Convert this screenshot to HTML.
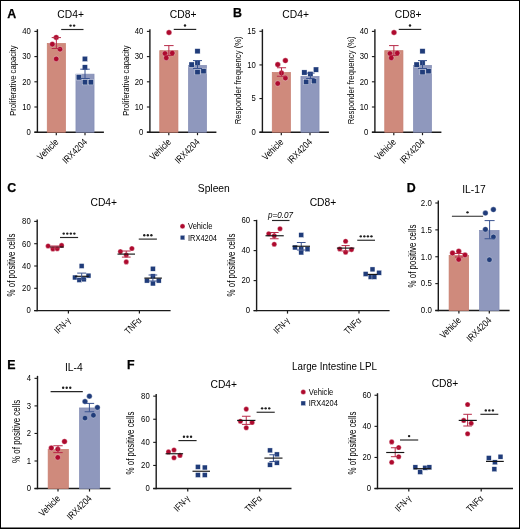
<!DOCTYPE html>
<html><head><meta charset="utf-8"><style>
html,body{margin:0;padding:0;background:#fff;}
svg{display:block;font-family:"Liberation Sans", sans-serif;will-change:transform;}
</style></head><body>
<svg width="520" height="529" viewBox="0 0 520 529">
<rect x="0" y="0" width="520" height="529" fill="#fff"/>
<line x1="37.40" y1="29.20" x2="37.40" y2="132.85" stroke="#1a1a1a" stroke-width="1.4"/>
<line x1="34.40" y1="132.20" x2="103.90" y2="132.20" stroke="#1a1a1a" stroke-width="1.4"/>
<line x1="34.40" y1="132.20" x2="37.40" y2="132.20" stroke="#1a1a1a" stroke-width="1.1"/>
<text x="30.90" y="135.00" font-size="9.8" text-anchor="end" textLength="4.3" lengthAdjust="spacingAndGlyphs">0</text>
<line x1="34.40" y1="107.00" x2="37.40" y2="107.00" stroke="#1a1a1a" stroke-width="1.1"/>
<text x="30.90" y="109.80" font-size="9.8" text-anchor="end" textLength="8.6" lengthAdjust="spacingAndGlyphs">10</text>
<line x1="34.40" y1="81.80" x2="37.40" y2="81.80" stroke="#1a1a1a" stroke-width="1.1"/>
<text x="30.90" y="84.60" font-size="9.8" text-anchor="end" textLength="8.6" lengthAdjust="spacingAndGlyphs">20</text>
<line x1="34.40" y1="56.60" x2="37.40" y2="56.60" stroke="#1a1a1a" stroke-width="1.1"/>
<text x="30.90" y="59.40" font-size="9.8" text-anchor="end" textLength="8.6" lengthAdjust="spacingAndGlyphs">30</text>
<line x1="34.40" y1="31.40" x2="37.40" y2="31.40" stroke="#1a1a1a" stroke-width="1.1"/>
<text x="30.90" y="34.20" font-size="9.8" text-anchor="end" textLength="8.6" lengthAdjust="spacingAndGlyphs">40</text>
<line x1="56.30" y1="132.20" x2="56.30" y2="135.20" stroke="#1a1a1a" stroke-width="1.2"/>
<line x1="85.00" y1="132.20" x2="85.00" y2="135.20" stroke="#1a1a1a" stroke-width="1.2"/>
<text x="16.10" y="80.60" font-size="9.6" text-anchor="middle" textLength="70.5" lengthAdjust="spacingAndGlyphs" transform="rotate(-90 16.10 80.60)">Proliferative capacity</text>
<text x="59.10" y="142.70" font-size="9.6" text-anchor="end" textLength="25.5" lengthAdjust="spacingAndGlyphs" transform="rotate(-45 59.10 142.70)">Vehicle</text>
<text x="87.80" y="142.70" font-size="9.6" text-anchor="end" textLength="30.5" lengthAdjust="spacingAndGlyphs" transform="rotate(-45 87.80 142.70)">IRX4204</text>
<text x="70.60" y="18.00" font-size="10.3" text-anchor="middle">CD4+</text>
<line x1="149.90" y1="29.20" x2="149.90" y2="132.85" stroke="#1a1a1a" stroke-width="1.4"/>
<line x1="146.90" y1="132.20" x2="216.40" y2="132.20" stroke="#1a1a1a" stroke-width="1.4"/>
<line x1="146.90" y1="132.20" x2="149.90" y2="132.20" stroke="#1a1a1a" stroke-width="1.1"/>
<text x="143.40" y="135.00" font-size="9.8" text-anchor="end" textLength="4.3" lengthAdjust="spacingAndGlyphs">0</text>
<line x1="146.90" y1="107.00" x2="149.90" y2="107.00" stroke="#1a1a1a" stroke-width="1.1"/>
<text x="143.40" y="109.80" font-size="9.8" text-anchor="end" textLength="8.6" lengthAdjust="spacingAndGlyphs">10</text>
<line x1="146.90" y1="81.80" x2="149.90" y2="81.80" stroke="#1a1a1a" stroke-width="1.1"/>
<text x="143.40" y="84.60" font-size="9.8" text-anchor="end" textLength="8.6" lengthAdjust="spacingAndGlyphs">20</text>
<line x1="146.90" y1="56.60" x2="149.90" y2="56.60" stroke="#1a1a1a" stroke-width="1.1"/>
<text x="143.40" y="59.40" font-size="9.8" text-anchor="end" textLength="8.6" lengthAdjust="spacingAndGlyphs">30</text>
<line x1="146.90" y1="31.40" x2="149.90" y2="31.40" stroke="#1a1a1a" stroke-width="1.1"/>
<text x="143.40" y="34.20" font-size="9.8" text-anchor="end" textLength="8.6" lengthAdjust="spacingAndGlyphs">40</text>
<line x1="168.80" y1="132.20" x2="168.80" y2="135.20" stroke="#1a1a1a" stroke-width="1.2"/>
<line x1="197.50" y1="132.20" x2="197.50" y2="135.20" stroke="#1a1a1a" stroke-width="1.2"/>
<text x="128.60" y="80.60" font-size="9.6" text-anchor="middle" textLength="70.5" lengthAdjust="spacingAndGlyphs" transform="rotate(-90 128.60 80.60)">Proliferative capacity</text>
<text x="171.60" y="142.70" font-size="9.6" text-anchor="end" textLength="25.5" lengthAdjust="spacingAndGlyphs" transform="rotate(-45 171.60 142.70)">Vehicle</text>
<text x="200.30" y="142.70" font-size="9.6" text-anchor="end" textLength="30.5" lengthAdjust="spacingAndGlyphs" transform="rotate(-45 200.30 142.70)">IRX4204</text>
<text x="183.10" y="18.00" font-size="10.3" text-anchor="middle">CD8+</text>
<line x1="262.40" y1="29.20" x2="262.40" y2="132.85" stroke="#1a1a1a" stroke-width="1.4"/>
<line x1="259.40" y1="132.20" x2="328.90" y2="132.20" stroke="#1a1a1a" stroke-width="1.4"/>
<line x1="259.40" y1="132.20" x2="262.40" y2="132.20" stroke="#1a1a1a" stroke-width="1.1"/>
<text x="255.90" y="135.00" font-size="9.8" text-anchor="end" textLength="4.3" lengthAdjust="spacingAndGlyphs">0</text>
<line x1="259.40" y1="98.57" x2="262.40" y2="98.57" stroke="#1a1a1a" stroke-width="1.1"/>
<text x="255.90" y="101.37" font-size="9.8" text-anchor="end" textLength="4.3" lengthAdjust="spacingAndGlyphs">5</text>
<line x1="259.40" y1="64.93" x2="262.40" y2="64.93" stroke="#1a1a1a" stroke-width="1.1"/>
<text x="255.90" y="67.73" font-size="9.8" text-anchor="end" textLength="8.6" lengthAdjust="spacingAndGlyphs">10</text>
<line x1="259.40" y1="31.30" x2="262.40" y2="31.30" stroke="#1a1a1a" stroke-width="1.1"/>
<text x="255.90" y="34.10" font-size="9.8" text-anchor="end" textLength="8.6" lengthAdjust="spacingAndGlyphs">15</text>
<line x1="281.30" y1="132.20" x2="281.30" y2="135.20" stroke="#1a1a1a" stroke-width="1.2"/>
<line x1="310.00" y1="132.20" x2="310.00" y2="135.20" stroke="#1a1a1a" stroke-width="1.2"/>
<text x="241.30" y="80.30" font-size="9.6" text-anchor="middle" textLength="88" lengthAdjust="spacingAndGlyphs" transform="rotate(-90 241.30 80.30)">Responder frequency (%)</text>
<text x="284.10" y="142.70" font-size="9.6" text-anchor="end" textLength="25.5" lengthAdjust="spacingAndGlyphs" transform="rotate(-45 284.10 142.70)">Vehicle</text>
<text x="312.80" y="142.70" font-size="9.6" text-anchor="end" textLength="30.5" lengthAdjust="spacingAndGlyphs" transform="rotate(-45 312.80 142.70)">IRX4204</text>
<text x="295.60" y="18.00" font-size="10.3" text-anchor="middle">CD4+</text>
<line x1="374.90" y1="29.20" x2="374.90" y2="132.85" stroke="#1a1a1a" stroke-width="1.4"/>
<line x1="371.90" y1="132.20" x2="441.40" y2="132.20" stroke="#1a1a1a" stroke-width="1.4"/>
<line x1="371.90" y1="132.20" x2="374.90" y2="132.20" stroke="#1a1a1a" stroke-width="1.1"/>
<text x="368.40" y="135.00" font-size="9.8" text-anchor="end" textLength="4.3" lengthAdjust="spacingAndGlyphs">0</text>
<line x1="371.90" y1="107.00" x2="374.90" y2="107.00" stroke="#1a1a1a" stroke-width="1.1"/>
<text x="368.40" y="109.80" font-size="9.8" text-anchor="end" textLength="8.6" lengthAdjust="spacingAndGlyphs">10</text>
<line x1="371.90" y1="81.80" x2="374.90" y2="81.80" stroke="#1a1a1a" stroke-width="1.1"/>
<text x="368.40" y="84.60" font-size="9.8" text-anchor="end" textLength="8.6" lengthAdjust="spacingAndGlyphs">20</text>
<line x1="371.90" y1="56.60" x2="374.90" y2="56.60" stroke="#1a1a1a" stroke-width="1.1"/>
<text x="368.40" y="59.40" font-size="9.8" text-anchor="end" textLength="8.6" lengthAdjust="spacingAndGlyphs">30</text>
<line x1="371.90" y1="31.40" x2="374.90" y2="31.40" stroke="#1a1a1a" stroke-width="1.1"/>
<text x="368.40" y="34.20" font-size="9.8" text-anchor="end" textLength="8.6" lengthAdjust="spacingAndGlyphs">40</text>
<line x1="393.80" y1="132.20" x2="393.80" y2="135.20" stroke="#1a1a1a" stroke-width="1.2"/>
<line x1="422.50" y1="132.20" x2="422.50" y2="135.20" stroke="#1a1a1a" stroke-width="1.2"/>
<text x="353.80" y="80.30" font-size="9.6" text-anchor="middle" textLength="88" lengthAdjust="spacingAndGlyphs" transform="rotate(-90 353.80 80.30)">Responder frequency (%)</text>
<text x="396.60" y="142.70" font-size="9.6" text-anchor="end" textLength="25.5" lengthAdjust="spacingAndGlyphs" transform="rotate(-45 396.60 142.70)">Vehicle</text>
<text x="425.30" y="142.70" font-size="9.6" text-anchor="end" textLength="30.5" lengthAdjust="spacingAndGlyphs" transform="rotate(-45 425.30 142.70)">IRX4204</text>
<text x="408.10" y="18.00" font-size="10.3" text-anchor="middle">CD8+</text>
<text x="7.3" y="17.5" font-size="12.4" font-weight="bold" stroke="#000" stroke-width="0.25">A</text>
<text x="233.0" y="17.3" font-size="12.4" font-weight="bold" stroke="#000" stroke-width="0.25">B</text>
<rect x="47.25" y="43.45" width="18.20" height="88.75" fill="#cf8a7c" stroke="#c77d6e" stroke-width="0.7"/>
<rect x="75.95" y="74.15" width="18.10" height="58.05" fill="#8f98bd" stroke="#838db6" stroke-width="0.7"/>
<line x1="61.20" y1="29.50" x2="83.50" y2="29.50" stroke="#262626" stroke-width="1.15"/>
<circle cx="70.57" cy="25.60" r="1.2" fill="#1e1e1e"/>
<circle cx="74.12" cy="25.60" r="1.2" fill="#1e1e1e"/>
<rect x="159.75" y="50.65" width="18.20" height="81.55" fill="#cf8a7c" stroke="#c77d6e" stroke-width="0.7"/>
<rect x="188.45" y="65.35" width="18.10" height="66.85" fill="#8f98bd" stroke="#838db6" stroke-width="0.7"/>
<line x1="173.75" y1="29.40" x2="196.25" y2="29.40" stroke="#262626" stroke-width="1.15"/>
<circle cx="185.00" cy="25.50" r="1.2" fill="#1e1e1e"/>
<rect x="384.75" y="50.65" width="18.20" height="81.55" fill="#cf8a7c" stroke="#c77d6e" stroke-width="0.7"/>
<rect x="413.45" y="65.35" width="18.10" height="66.85" fill="#8f98bd" stroke="#838db6" stroke-width="0.7"/>
<line x1="398.75" y1="29.40" x2="421.25" y2="29.40" stroke="#262626" stroke-width="1.15"/>
<circle cx="410.00" cy="25.50" r="1.2" fill="#1e1e1e"/>
<rect x="272.25" y="72.45" width="18.20" height="59.75" fill="#cf8a7c" stroke="#c77d6e" stroke-width="0.7"/>
<rect x="300.95" y="76.35" width="18.10" height="55.85" fill="#8f98bd" stroke="#838db6" stroke-width="0.7"/>
<text x="7.3" y="191.8" font-size="12.4" font-weight="bold" stroke="#000" stroke-width="0.25">C</text>
<text x="213.80" y="191.60" font-size="10.3" text-anchor="middle">Spleen</text>
<text x="188.00" y="229.40" font-size="8.6" text-anchor="start" textLength="24.5" lengthAdjust="spacingAndGlyphs">Vehicle</text>
<text x="188.00" y="240.70" font-size="8.6" text-anchor="start" textLength="29" lengthAdjust="spacingAndGlyphs">IRX4204</text>
<line x1="37.20" y1="219.50" x2="37.20" y2="311.25" stroke="#1a1a1a" stroke-width="1.4"/>
<line x1="34.20" y1="310.60" x2="170.60" y2="310.60" stroke="#1a1a1a" stroke-width="1.4"/>
<line x1="34.20" y1="310.60" x2="37.20" y2="310.60" stroke="#1a1a1a" stroke-width="1.1"/>
<text x="30.70" y="313.40" font-size="9.8" text-anchor="end" textLength="4.3" lengthAdjust="spacingAndGlyphs">0</text>
<line x1="34.20" y1="288.30" x2="37.20" y2="288.30" stroke="#1a1a1a" stroke-width="1.1"/>
<text x="30.70" y="291.10" font-size="9.8" text-anchor="end" textLength="8.6" lengthAdjust="spacingAndGlyphs">20</text>
<line x1="34.20" y1="266.00" x2="37.20" y2="266.00" stroke="#1a1a1a" stroke-width="1.1"/>
<text x="30.70" y="268.80" font-size="9.8" text-anchor="end" textLength="8.6" lengthAdjust="spacingAndGlyphs">40</text>
<line x1="34.20" y1="243.70" x2="37.20" y2="243.70" stroke="#1a1a1a" stroke-width="1.1"/>
<text x="30.70" y="246.50" font-size="9.8" text-anchor="end" textLength="8.6" lengthAdjust="spacingAndGlyphs">60</text>
<line x1="34.20" y1="221.40" x2="37.20" y2="221.40" stroke="#1a1a1a" stroke-width="1.1"/>
<text x="30.70" y="224.20" font-size="9.8" text-anchor="end" textLength="8.6" lengthAdjust="spacingAndGlyphs">80</text>
<line x1="68.40" y1="310.60" x2="68.40" y2="313.60" stroke="#1a1a1a" stroke-width="1.2"/>
<line x1="139.40" y1="310.60" x2="139.40" y2="313.60" stroke="#1a1a1a" stroke-width="1.2"/>
<text x="15.20" y="265.00" font-size="10.0" text-anchor="middle" textLength="63" lengthAdjust="spacingAndGlyphs" transform="rotate(-90 15.20 265.00)">% of positive cells</text>
<text x="103.80" y="206.30" font-size="10.3" text-anchor="middle">CD4+</text>
<line x1="60.00" y1="237.50" x2="78.10" y2="237.50" stroke="#262626" stroke-width="1.15"/>
<circle cx="63.72" cy="233.60" r="1.2" fill="#1e1e1e"/>
<circle cx="67.27" cy="233.60" r="1.2" fill="#1e1e1e"/>
<circle cx="70.83" cy="233.60" r="1.2" fill="#1e1e1e"/>
<circle cx="74.38" cy="233.60" r="1.2" fill="#1e1e1e"/>
<line x1="138.75" y1="239.10" x2="156.90" y2="239.10" stroke="#262626" stroke-width="1.15"/>
<circle cx="144.27" cy="235.20" r="1.2" fill="#1e1e1e"/>
<circle cx="147.82" cy="235.20" r="1.2" fill="#1e1e1e"/>
<circle cx="151.38" cy="235.20" r="1.2" fill="#1e1e1e"/>
<text x="71.20" y="321.10" font-size="9.2" text-anchor="end" textLength="18.5" lengthAdjust="spacingAndGlyphs" transform="rotate(-45 71.20 321.10)">IFN-γ</text>
<text x="142.20" y="321.10" font-size="9.6" text-anchor="end" textLength="19.5" lengthAdjust="spacingAndGlyphs" transform="rotate(-45 142.20 321.10)">TNFα</text>
<line x1="256.60" y1="219.80" x2="256.60" y2="311.25" stroke="#1a1a1a" stroke-width="1.4"/>
<line x1="253.60" y1="310.60" x2="389.60" y2="310.60" stroke="#1a1a1a" stroke-width="1.4"/>
<line x1="253.60" y1="310.60" x2="256.60" y2="310.60" stroke="#1a1a1a" stroke-width="1.1"/>
<text x="250.10" y="313.40" font-size="9.8" text-anchor="end" textLength="4.3" lengthAdjust="spacingAndGlyphs">0</text>
<line x1="253.60" y1="280.60" x2="256.60" y2="280.60" stroke="#1a1a1a" stroke-width="1.1"/>
<text x="250.10" y="283.40" font-size="9.8" text-anchor="end" textLength="8.6" lengthAdjust="spacingAndGlyphs">20</text>
<line x1="253.60" y1="250.60" x2="256.60" y2="250.60" stroke="#1a1a1a" stroke-width="1.1"/>
<text x="250.10" y="253.40" font-size="9.8" text-anchor="end" textLength="8.6" lengthAdjust="spacingAndGlyphs">40</text>
<line x1="253.60" y1="220.60" x2="256.60" y2="220.60" stroke="#1a1a1a" stroke-width="1.1"/>
<text x="250.10" y="223.40" font-size="9.8" text-anchor="end" textLength="8.6" lengthAdjust="spacingAndGlyphs">60</text>
<line x1="287.50" y1="310.60" x2="287.50" y2="313.60" stroke="#1a1a1a" stroke-width="1.2"/>
<line x1="359.00" y1="310.60" x2="359.00" y2="313.60" stroke="#1a1a1a" stroke-width="1.2"/>
<text x="234.60" y="265.00" font-size="10.0" text-anchor="middle" textLength="63" lengthAdjust="spacingAndGlyphs" transform="rotate(-90 234.60 265.00)">% of positive cells</text>
<text x="323.00" y="206.30" font-size="10.3" text-anchor="middle">CD8+</text>
<line x1="272.00" y1="220.50" x2="289.50" y2="220.50" stroke="#262626" stroke-width="1.15"/>
<text x="280.50" y="218.00" font-size="8.4" text-anchor="middle" font-style="italic" textLength="25" lengthAdjust="spacingAndGlyphs">p=0.07</text>
<line x1="357.25" y1="240.25" x2="375.00" y2="240.25" stroke="#262626" stroke-width="1.15"/>
<circle cx="360.80" cy="236.35" r="1.2" fill="#1e1e1e"/>
<circle cx="364.35" cy="236.35" r="1.2" fill="#1e1e1e"/>
<circle cx="367.90" cy="236.35" r="1.2" fill="#1e1e1e"/>
<circle cx="371.45" cy="236.35" r="1.2" fill="#1e1e1e"/>
<text x="290.30" y="321.10" font-size="9.2" text-anchor="end" textLength="18.5" lengthAdjust="spacingAndGlyphs" transform="rotate(-45 290.30 321.10)">IFN-γ</text>
<text x="361.80" y="321.10" font-size="9.6" text-anchor="end" textLength="19.5" lengthAdjust="spacingAndGlyphs" transform="rotate(-45 361.80 321.10)">TNFα</text>
<text x="406.8" y="191.8" font-size="12.4" font-weight="bold" stroke="#000" stroke-width="0.25">D</text>
<text x="474.00" y="192.50" font-size="10.3" text-anchor="middle">IL-17</text>
<line x1="438.30" y1="200.50" x2="438.30" y2="311.15" stroke="#1a1a1a" stroke-width="1.4"/>
<line x1="435.30" y1="310.50" x2="509.60" y2="310.50" stroke="#1a1a1a" stroke-width="1.4"/>
<line x1="435.30" y1="310.50" x2="438.30" y2="310.50" stroke="#1a1a1a" stroke-width="1.1"/>
<text x="431.80" y="313.30" font-size="9.8" text-anchor="end" textLength="11.0" lengthAdjust="spacingAndGlyphs">0.0</text>
<line x1="435.30" y1="283.62" x2="438.30" y2="283.62" stroke="#1a1a1a" stroke-width="1.1"/>
<text x="431.80" y="286.43" font-size="9.8" text-anchor="end" textLength="11.0" lengthAdjust="spacingAndGlyphs">0.5</text>
<line x1="435.30" y1="256.75" x2="438.30" y2="256.75" stroke="#1a1a1a" stroke-width="1.1"/>
<text x="431.80" y="259.55" font-size="9.8" text-anchor="end" textLength="11.0" lengthAdjust="spacingAndGlyphs">1.0</text>
<line x1="435.30" y1="229.88" x2="438.30" y2="229.88" stroke="#1a1a1a" stroke-width="1.1"/>
<text x="431.80" y="232.68" font-size="9.8" text-anchor="end" textLength="11.0" lengthAdjust="spacingAndGlyphs">1.5</text>
<line x1="435.30" y1="203.00" x2="438.30" y2="203.00" stroke="#1a1a1a" stroke-width="1.1"/>
<text x="431.80" y="205.80" font-size="9.8" text-anchor="end" textLength="11.0" lengthAdjust="spacingAndGlyphs">2.0</text>
<line x1="458.90" y1="310.50" x2="458.90" y2="313.50" stroke="#1a1a1a" stroke-width="1.2"/>
<line x1="489.30" y1="310.50" x2="489.30" y2="313.50" stroke="#1a1a1a" stroke-width="1.2"/>
<text x="416.30" y="256.00" font-size="10.0" text-anchor="middle" textLength="63" lengthAdjust="spacingAndGlyphs" transform="rotate(-90 416.30 256.00)">% of positive cells</text>
<rect x="449.10" y="255.35" width="19.55" height="55.15" fill="#cf8a7c" stroke="#c77d6e" stroke-width="0.7"/>
<rect x="479.45" y="230.35" width="19.60" height="80.15" fill="#8f98bd" stroke="#838db6" stroke-width="0.7"/>
<line x1="451.90" y1="216.25" x2="483.10" y2="216.25" stroke="#262626" stroke-width="1.15"/>
<circle cx="467.50" cy="212.35" r="1.2" fill="#1e1e1e"/>
<text x="461.70" y="321.00" font-size="9.6" text-anchor="end" textLength="25.5" lengthAdjust="spacingAndGlyphs" transform="rotate(-45 461.70 321.00)">Vehicle</text>
<text x="492.10" y="321.00" font-size="9.6" text-anchor="end" textLength="30.5" lengthAdjust="spacingAndGlyphs" transform="rotate(-45 492.10 321.00)">IRX4204</text>
<text x="7.3" y="369.40000000000003" font-size="12.4" font-weight="bold" stroke="#000" stroke-width="0.25">E</text>
<text x="73.80" y="370.50" font-size="10.3" text-anchor="middle">IL-4</text>
<line x1="37.50" y1="375.85" x2="37.50" y2="489.20" stroke="#1a1a1a" stroke-width="1.4"/>
<line x1="34.50" y1="488.55" x2="110.50" y2="488.55" stroke="#1a1a1a" stroke-width="1.4"/>
<line x1="34.50" y1="488.55" x2="37.50" y2="488.55" stroke="#1a1a1a" stroke-width="1.1"/>
<text x="31.00" y="491.35" font-size="9.8" text-anchor="end" textLength="4.3" lengthAdjust="spacingAndGlyphs">0</text>
<line x1="34.50" y1="461.00" x2="37.50" y2="461.00" stroke="#1a1a1a" stroke-width="1.1"/>
<text x="31.00" y="463.80" font-size="9.8" text-anchor="end" textLength="4.3" lengthAdjust="spacingAndGlyphs">1</text>
<line x1="34.50" y1="433.45" x2="37.50" y2="433.45" stroke="#1a1a1a" stroke-width="1.1"/>
<text x="31.00" y="436.25" font-size="9.8" text-anchor="end" textLength="4.3" lengthAdjust="spacingAndGlyphs">2</text>
<line x1="34.50" y1="405.90" x2="37.50" y2="405.90" stroke="#1a1a1a" stroke-width="1.1"/>
<text x="31.00" y="408.70" font-size="9.8" text-anchor="end" textLength="4.3" lengthAdjust="spacingAndGlyphs">3</text>
<line x1="34.50" y1="378.35" x2="37.50" y2="378.35" stroke="#1a1a1a" stroke-width="1.1"/>
<text x="31.00" y="381.15" font-size="9.8" text-anchor="end" textLength="4.3" lengthAdjust="spacingAndGlyphs">4</text>
<line x1="58.00" y1="488.55" x2="58.00" y2="491.55" stroke="#1a1a1a" stroke-width="1.2"/>
<line x1="89.50" y1="488.55" x2="89.50" y2="491.55" stroke="#1a1a1a" stroke-width="1.2"/>
<text x="19.80" y="431.40" font-size="10.0" text-anchor="middle" textLength="63" lengthAdjust="spacingAndGlyphs" transform="rotate(-90 19.80 431.40)">% of positive cells</text>
<rect x="48.15" y="449.35" width="20.20" height="39.20" fill="#cf8a7c" stroke="#c77d6e" stroke-width="0.7"/>
<rect x="79.45" y="407.95" width="20.20" height="80.60" fill="#8f98bd" stroke="#838db6" stroke-width="0.7"/>
<line x1="50.60" y1="391.60" x2="82.80" y2="391.60" stroke="#262626" stroke-width="1.15"/>
<circle cx="63.15" cy="387.70" r="1.2" fill="#1e1e1e"/>
<circle cx="66.70" cy="387.70" r="1.2" fill="#1e1e1e"/>
<circle cx="70.25" cy="387.70" r="1.2" fill="#1e1e1e"/>
<text x="60.80" y="499.05" font-size="9.6" text-anchor="end" textLength="25.5" lengthAdjust="spacingAndGlyphs" transform="rotate(-45 60.80 499.05)">Vehicle</text>
<text x="92.30" y="499.05" font-size="9.6" text-anchor="end" textLength="30.5" lengthAdjust="spacingAndGlyphs" transform="rotate(-45 92.30 499.05)">IRX4204</text>
<text x="127.0" y="369.40000000000003" font-size="12.4" font-weight="bold" stroke="#000" stroke-width="0.25">F</text>
<text x="334.50" y="369.50" font-size="10.3" text-anchor="middle" textLength="85" lengthAdjust="spacingAndGlyphs">Large Intestine LPL</text>
<text x="308.80" y="395.10" font-size="8.6" text-anchor="start" textLength="24.5" lengthAdjust="spacingAndGlyphs">Vehicle</text>
<text x="308.80" y="406.40" font-size="8.6" text-anchor="start" textLength="29" lengthAdjust="spacingAndGlyphs">IRX4204</text>
<line x1="156.20" y1="394.00" x2="156.20" y2="489.20" stroke="#1a1a1a" stroke-width="1.4"/>
<line x1="153.20" y1="488.55" x2="291.50" y2="488.55" stroke="#1a1a1a" stroke-width="1.4"/>
<line x1="153.20" y1="488.55" x2="156.20" y2="488.55" stroke="#1a1a1a" stroke-width="1.1"/>
<text x="149.70" y="491.35" font-size="9.8" text-anchor="end" textLength="4.3" lengthAdjust="spacingAndGlyphs">0</text>
<line x1="153.20" y1="465.45" x2="156.20" y2="465.45" stroke="#1a1a1a" stroke-width="1.1"/>
<text x="149.70" y="468.25" font-size="9.8" text-anchor="end" textLength="8.6" lengthAdjust="spacingAndGlyphs">20</text>
<line x1="153.20" y1="442.35" x2="156.20" y2="442.35" stroke="#1a1a1a" stroke-width="1.1"/>
<text x="149.70" y="445.15" font-size="9.8" text-anchor="end" textLength="8.6" lengthAdjust="spacingAndGlyphs">40</text>
<line x1="153.20" y1="419.25" x2="156.20" y2="419.25" stroke="#1a1a1a" stroke-width="1.1"/>
<text x="149.70" y="422.05" font-size="9.8" text-anchor="end" textLength="8.6" lengthAdjust="spacingAndGlyphs">60</text>
<line x1="153.20" y1="396.15" x2="156.20" y2="396.15" stroke="#1a1a1a" stroke-width="1.1"/>
<text x="149.70" y="398.95" font-size="9.8" text-anchor="end" textLength="8.6" lengthAdjust="spacingAndGlyphs">80</text>
<line x1="187.75" y1="488.55" x2="187.75" y2="491.55" stroke="#1a1a1a" stroke-width="1.2"/>
<line x1="259.75" y1="488.55" x2="259.75" y2="491.55" stroke="#1a1a1a" stroke-width="1.2"/>
<text x="134.20" y="443.00" font-size="10.0" text-anchor="middle" textLength="63" lengthAdjust="spacingAndGlyphs" transform="rotate(-90 134.20 443.00)">% of positive cells</text>
<text x="223.80" y="387.50" font-size="10.3" text-anchor="middle">CD4+</text>
<line x1="178.40" y1="440.60" x2="196.60" y2="440.60" stroke="#262626" stroke-width="1.15"/>
<circle cx="183.95" cy="436.70" r="1.2" fill="#1e1e1e"/>
<circle cx="187.50" cy="436.70" r="1.2" fill="#1e1e1e"/>
<circle cx="191.05" cy="436.70" r="1.2" fill="#1e1e1e"/>
<line x1="256.60" y1="412.25" x2="274.75" y2="412.25" stroke="#262626" stroke-width="1.15"/>
<circle cx="262.12" cy="408.35" r="1.2" fill="#1e1e1e"/>
<circle cx="265.68" cy="408.35" r="1.2" fill="#1e1e1e"/>
<circle cx="269.23" cy="408.35" r="1.2" fill="#1e1e1e"/>
<text x="190.55" y="499.05" font-size="9.2" text-anchor="end" textLength="18.5" lengthAdjust="spacingAndGlyphs" transform="rotate(-45 190.55 499.05)">IFN-γ</text>
<text x="262.55" y="499.05" font-size="9.6" text-anchor="end" textLength="19.5" lengthAdjust="spacingAndGlyphs" transform="rotate(-45 262.55 499.05)">TNFα</text>
<line x1="377.50" y1="393.20" x2="377.50" y2="489.20" stroke="#1a1a1a" stroke-width="1.4"/>
<line x1="374.50" y1="488.55" x2="513.00" y2="488.55" stroke="#1a1a1a" stroke-width="1.4"/>
<line x1="374.50" y1="488.55" x2="377.50" y2="488.55" stroke="#1a1a1a" stroke-width="1.1"/>
<text x="371.00" y="491.35" font-size="9.8" text-anchor="end" textLength="4.3" lengthAdjust="spacingAndGlyphs">0</text>
<line x1="374.50" y1="457.45" x2="377.50" y2="457.45" stroke="#1a1a1a" stroke-width="1.1"/>
<text x="371.00" y="460.25" font-size="9.8" text-anchor="end" textLength="8.6" lengthAdjust="spacingAndGlyphs">20</text>
<line x1="374.50" y1="426.35" x2="377.50" y2="426.35" stroke="#1a1a1a" stroke-width="1.1"/>
<text x="371.00" y="429.15" font-size="9.8" text-anchor="end" textLength="8.6" lengthAdjust="spacingAndGlyphs">40</text>
<line x1="374.50" y1="395.25" x2="377.50" y2="395.25" stroke="#1a1a1a" stroke-width="1.1"/>
<text x="371.00" y="398.05" font-size="9.8" text-anchor="end" textLength="8.6" lengthAdjust="spacingAndGlyphs">60</text>
<line x1="408.80" y1="488.55" x2="408.80" y2="491.55" stroke="#1a1a1a" stroke-width="1.2"/>
<line x1="481.20" y1="488.55" x2="481.20" y2="491.55" stroke="#1a1a1a" stroke-width="1.2"/>
<text x="355.50" y="443.00" font-size="10.0" text-anchor="middle" textLength="63" lengthAdjust="spacingAndGlyphs" transform="rotate(-90 355.50 443.00)">% of positive cells</text>
<text x="445.00" y="387.30" font-size="10.3" text-anchor="middle">CD8+</text>
<line x1="400.00" y1="440.00" x2="418.20" y2="440.00" stroke="#262626" stroke-width="1.15"/>
<circle cx="409.10" cy="436.10" r="1.2" fill="#1e1e1e"/>
<line x1="480.40" y1="414.30" x2="498.30" y2="414.30" stroke="#262626" stroke-width="1.15"/>
<circle cx="485.80" cy="410.40" r="1.2" fill="#1e1e1e"/>
<circle cx="489.35" cy="410.40" r="1.2" fill="#1e1e1e"/>
<circle cx="492.90" cy="410.40" r="1.2" fill="#1e1e1e"/>
<text x="411.80" y="499.05" font-size="9.2" text-anchor="end" textLength="18.5" lengthAdjust="spacingAndGlyphs" transform="rotate(-45 411.80 499.05)">IFN-γ</text>
<text x="484.00" y="499.05" font-size="9.6" text-anchor="end" textLength="19.5" lengthAdjust="spacingAndGlyphs" transform="rotate(-45 484.00 499.05)">TNFα</text>
<circle cx="56.20" cy="37.40" r="2.75" fill="#ae0a2e" stroke="#fff" stroke-width="0.35"/>
<circle cx="52.30" cy="44.20" r="2.75" fill="#ae0a2e" stroke="#fff" stroke-width="0.35"/>
<circle cx="60.00" cy="49.20" r="2.75" fill="#ae0a2e" stroke="#fff" stroke-width="0.35"/>
<circle cx="56.20" cy="58.90" r="2.75" fill="#ae0a2e" stroke="#fff" stroke-width="0.35"/>
<rect x="82.30" y="56.30" width="5.2" height="5.2" fill="#203c7a" stroke="#fff" stroke-width="0.35"/>
<rect x="82.30" y="64.80" width="5.2" height="5.2" fill="#203c7a" stroke="#fff" stroke-width="0.35"/>
<rect x="76.30" y="74.80" width="5.2" height="5.2" fill="#203c7a" stroke="#fff" stroke-width="0.35"/>
<rect x="82.30" y="79.70" width="5.2" height="5.2" fill="#203c7a" stroke="#fff" stroke-width="0.35"/>
<rect x="88.20" y="79.70" width="5.2" height="5.2" fill="#203c7a" stroke="#fff" stroke-width="0.35"/>
<circle cx="169.00" cy="32.50" r="2.75" fill="#ae0a2e" stroke="#fff" stroke-width="0.35"/>
<circle cx="165.00" cy="53.50" r="2.75" fill="#ae0a2e" stroke="#fff" stroke-width="0.35"/>
<circle cx="172.25" cy="53.10" r="2.75" fill="#ae0a2e" stroke="#fff" stroke-width="0.35"/>
<circle cx="166.25" cy="57.90" r="2.75" fill="#ae0a2e" stroke="#fff" stroke-width="0.35"/>
<rect x="194.90" y="48.65" width="5.2" height="5.2" fill="#203c7a" stroke="#fff" stroke-width="0.35"/>
<rect x="189.00" y="62.00" width="5.2" height="5.2" fill="#203c7a" stroke="#fff" stroke-width="0.35"/>
<rect x="194.90" y="60.50" width="5.2" height="5.2" fill="#203c7a" stroke="#fff" stroke-width="0.35"/>
<rect x="194.90" y="69.65" width="5.2" height="5.2" fill="#203c7a" stroke="#fff" stroke-width="0.35"/>
<rect x="200.90" y="68.65" width="5.2" height="5.2" fill="#203c7a" stroke="#fff" stroke-width="0.35"/>
<circle cx="394.00" cy="32.50" r="2.75" fill="#ae0a2e" stroke="#fff" stroke-width="0.35"/>
<circle cx="390.00" cy="53.50" r="2.75" fill="#ae0a2e" stroke="#fff" stroke-width="0.35"/>
<circle cx="397.25" cy="53.10" r="2.75" fill="#ae0a2e" stroke="#fff" stroke-width="0.35"/>
<circle cx="391.25" cy="57.90" r="2.75" fill="#ae0a2e" stroke="#fff" stroke-width="0.35"/>
<rect x="419.90" y="48.65" width="5.2" height="5.2" fill="#203c7a" stroke="#fff" stroke-width="0.35"/>
<rect x="414.00" y="62.00" width="5.2" height="5.2" fill="#203c7a" stroke="#fff" stroke-width="0.35"/>
<rect x="419.90" y="60.50" width="5.2" height="5.2" fill="#203c7a" stroke="#fff" stroke-width="0.35"/>
<rect x="419.90" y="69.65" width="5.2" height="5.2" fill="#203c7a" stroke="#fff" stroke-width="0.35"/>
<rect x="425.90" y="68.65" width="5.2" height="5.2" fill="#203c7a" stroke="#fff" stroke-width="0.35"/>
<circle cx="285.40" cy="60.60" r="2.75" fill="#ae0a2e" stroke="#fff" stroke-width="0.35"/>
<circle cx="277.75" cy="64.60" r="2.75" fill="#ae0a2e" stroke="#fff" stroke-width="0.35"/>
<circle cx="281.50" cy="73.10" r="2.75" fill="#ae0a2e" stroke="#fff" stroke-width="0.35"/>
<circle cx="285.40" cy="78.10" r="2.75" fill="#ae0a2e" stroke="#fff" stroke-width="0.35"/>
<circle cx="277.75" cy="83.50" r="2.75" fill="#ae0a2e" stroke="#fff" stroke-width="0.35"/>
<rect x="313.40" y="67.00" width="5.2" height="5.2" fill="#203c7a" stroke="#fff" stroke-width="0.35"/>
<rect x="301.80" y="69.90" width="5.2" height="5.2" fill="#203c7a" stroke="#fff" stroke-width="0.35"/>
<rect x="307.80" y="71.50" width="5.2" height="5.2" fill="#203c7a" stroke="#fff" stroke-width="0.35"/>
<rect x="303.65" y="79.30" width="5.2" height="5.2" fill="#203c7a" stroke="#fff" stroke-width="0.35"/>
<rect x="311.50" y="78.65" width="5.2" height="5.2" fill="#203c7a" stroke="#fff" stroke-width="0.35"/>
<circle cx="182.50" cy="226.30" r="2.5" fill="#ae0a2e" stroke="#fff" stroke-width="0.35"/>
<rect x="180.20" y="235.30" width="4.6" height="4.6" fill="#203c7a" stroke="#fff" stroke-width="0.35"/>
<circle cx="48.10" cy="246.00" r="2.55" fill="#ae0a2e" stroke="#fff" stroke-width="0.35"/>
<circle cx="52.90" cy="249.00" r="2.55" fill="#ae0a2e" stroke="#fff" stroke-width="0.35"/>
<circle cx="57.25" cy="248.75" r="2.55" fill="#ae0a2e" stroke="#fff" stroke-width="0.35"/>
<circle cx="61.60" cy="245.40" r="2.55" fill="#ae0a2e" stroke="#fff" stroke-width="0.35"/>
<rect x="79.15" y="263.55" width="4.9" height="4.9" fill="#203c7a" stroke="#fff" stroke-width="0.35"/>
<rect x="72.55" y="275.05" width="4.9" height="4.9" fill="#203c7a" stroke="#fff" stroke-width="0.35"/>
<rect x="76.95" y="277.55" width="4.9" height="4.9" fill="#203c7a" stroke="#fff" stroke-width="0.35"/>
<rect x="81.30" y="276.95" width="4.9" height="4.9" fill="#203c7a" stroke="#fff" stroke-width="0.35"/>
<rect x="86.05" y="273.15" width="4.9" height="4.9" fill="#203c7a" stroke="#fff" stroke-width="0.35"/>
<circle cx="131.90" cy="248.50" r="2.55" fill="#ae0a2e" stroke="#fff" stroke-width="0.35"/>
<circle cx="120.40" cy="251.60" r="2.55" fill="#ae0a2e" stroke="#fff" stroke-width="0.35"/>
<circle cx="126.25" cy="255.00" r="2.55" fill="#ae0a2e" stroke="#fff" stroke-width="0.35"/>
<circle cx="126.25" cy="261.90" r="2.55" fill="#ae0a2e" stroke="#fff" stroke-width="0.35"/>
<rect x="150.45" y="266.30" width="4.9" height="4.9" fill="#203c7a" stroke="#fff" stroke-width="0.35"/>
<rect x="150.45" y="273.80" width="4.9" height="4.9" fill="#203c7a" stroke="#fff" stroke-width="0.35"/>
<rect x="144.45" y="278.15" width="4.9" height="4.9" fill="#203c7a" stroke="#fff" stroke-width="0.35"/>
<rect x="156.30" y="278.15" width="4.9" height="4.9" fill="#203c7a" stroke="#fff" stroke-width="0.35"/>
<rect x="150.45" y="281.05" width="4.9" height="4.9" fill="#203c7a" stroke="#fff" stroke-width="0.35"/>
<circle cx="268.75" cy="233.75" r="2.55" fill="#ae0a2e" stroke="#fff" stroke-width="0.35"/>
<circle cx="280.00" cy="228.75" r="2.55" fill="#ae0a2e" stroke="#fff" stroke-width="0.35"/>
<circle cx="274.25" cy="235.75" r="2.55" fill="#ae0a2e" stroke="#fff" stroke-width="0.35"/>
<circle cx="274.25" cy="244.25" r="2.55" fill="#ae0a2e" stroke="#fff" stroke-width="0.35"/>
<rect x="298.80" y="232.55" width="4.9" height="4.9" fill="#203c7a" stroke="#fff" stroke-width="0.35"/>
<rect x="292.55" y="245.05" width="4.9" height="4.9" fill="#203c7a" stroke="#fff" stroke-width="0.35"/>
<rect x="298.80" y="246.80" width="4.9" height="4.9" fill="#203c7a" stroke="#fff" stroke-width="0.35"/>
<rect x="305.05" y="246.80" width="4.9" height="4.9" fill="#203c7a" stroke="#fff" stroke-width="0.35"/>
<rect x="298.80" y="250.05" width="4.9" height="4.9" fill="#203c7a" stroke="#fff" stroke-width="0.35"/>
<circle cx="345.60" cy="241.25" r="2.55" fill="#ae0a2e" stroke="#fff" stroke-width="0.35"/>
<circle cx="339.75" cy="249.00" r="2.55" fill="#ae0a2e" stroke="#fff" stroke-width="0.35"/>
<circle cx="351.50" cy="249.60" r="2.55" fill="#ae0a2e" stroke="#fff" stroke-width="0.35"/>
<circle cx="345.60" cy="252.25" r="2.55" fill="#ae0a2e" stroke="#fff" stroke-width="0.35"/>
<rect x="370.05" y="266.95" width="4.9" height="4.9" fill="#203c7a" stroke="#fff" stroke-width="0.35"/>
<rect x="363.15" y="271.55" width="4.9" height="4.9" fill="#203c7a" stroke="#fff" stroke-width="0.35"/>
<rect x="376.65" y="270.30" width="4.9" height="4.9" fill="#203c7a" stroke="#fff" stroke-width="0.35"/>
<rect x="368.15" y="274.45" width="4.9" height="4.9" fill="#203c7a" stroke="#fff" stroke-width="0.35"/>
<rect x="371.95" y="274.45" width="4.9" height="4.9" fill="#203c7a" stroke="#fff" stroke-width="0.35"/>
<circle cx="452.50" cy="253.10" r="2.75" fill="#ae0a2e" stroke="#fff" stroke-width="0.35"/>
<circle cx="458.75" cy="251.25" r="2.75" fill="#ae0a2e" stroke="#fff" stroke-width="0.35"/>
<circle cx="465.00" cy="255.00" r="2.75" fill="#ae0a2e" stroke="#fff" stroke-width="0.35"/>
<circle cx="458.75" cy="259.40" r="2.75" fill="#ae0a2e" stroke="#fff" stroke-width="0.35"/>
<circle cx="485.40" cy="213.10" r="2.75" fill="#203c7a" stroke="#fff" stroke-width="0.35"/>
<circle cx="493.40" cy="209.60" r="2.75" fill="#203c7a" stroke="#fff" stroke-width="0.35"/>
<circle cx="485.40" cy="229.40" r="2.75" fill="#203c7a" stroke="#fff" stroke-width="0.35"/>
<circle cx="493.40" cy="236.90" r="2.75" fill="#203c7a" stroke="#fff" stroke-width="0.35"/>
<circle cx="489.40" cy="259.75" r="2.75" fill="#203c7a" stroke="#fff" stroke-width="0.35"/>
<circle cx="64.50" cy="441.50" r="2.75" fill="#ae0a2e" stroke="#fff" stroke-width="0.35"/>
<circle cx="51.30" cy="448.00" r="2.75" fill="#ae0a2e" stroke="#fff" stroke-width="0.35"/>
<circle cx="57.80" cy="449.20" r="2.75" fill="#ae0a2e" stroke="#fff" stroke-width="0.35"/>
<circle cx="57.80" cy="457.40" r="2.75" fill="#ae0a2e" stroke="#fff" stroke-width="0.35"/>
<circle cx="89.40" cy="396.20" r="2.75" fill="#203c7a" stroke="#fff" stroke-width="0.35"/>
<circle cx="85.00" cy="401.50" r="2.75" fill="#203c7a" stroke="#fff" stroke-width="0.35"/>
<circle cx="97.40" cy="407.50" r="2.75" fill="#203c7a" stroke="#fff" stroke-width="0.35"/>
<circle cx="93.40" cy="415.20" r="2.75" fill="#203c7a" stroke="#fff" stroke-width="0.35"/>
<circle cx="85.00" cy="418.10" r="2.75" fill="#203c7a" stroke="#fff" stroke-width="0.35"/>
<circle cx="303.25" cy="392.00" r="2.5" fill="#ae0a2e" stroke="#fff" stroke-width="0.35"/>
<rect x="300.95" y="401.00" width="4.6" height="4.6" fill="#203c7a" stroke="#fff" stroke-width="0.35"/>
<circle cx="168.50" cy="451.90" r="2.55" fill="#ae0a2e" stroke="#fff" stroke-width="0.35"/>
<circle cx="174.00" cy="450.00" r="2.55" fill="#ae0a2e" stroke="#fff" stroke-width="0.35"/>
<circle cx="180.00" cy="455.40" r="2.55" fill="#ae0a2e" stroke="#fff" stroke-width="0.35"/>
<circle cx="174.00" cy="457.75" r="2.55" fill="#ae0a2e" stroke="#fff" stroke-width="0.35"/>
<rect x="195.45" y="464.45" width="4.9" height="4.9" fill="#203c7a" stroke="#fff" stroke-width="0.35"/>
<rect x="202.30" y="465.05" width="4.9" height="4.9" fill="#203c7a" stroke="#fff" stroke-width="0.35"/>
<rect x="195.45" y="472.55" width="4.9" height="4.9" fill="#203c7a" stroke="#fff" stroke-width="0.35"/>
<rect x="202.30" y="472.55" width="4.9" height="4.9" fill="#203c7a" stroke="#fff" stroke-width="0.35"/>
<circle cx="246.25" cy="409.10" r="2.55" fill="#ae0a2e" stroke="#fff" stroke-width="0.35"/>
<circle cx="240.40" cy="421.25" r="2.55" fill="#ae0a2e" stroke="#fff" stroke-width="0.35"/>
<circle cx="252.10" cy="422.50" r="2.55" fill="#ae0a2e" stroke="#fff" stroke-width="0.35"/>
<circle cx="246.25" cy="427.75" r="2.55" fill="#ae0a2e" stroke="#fff" stroke-width="0.35"/>
<rect x="267.55" y="447.95" width="4.9" height="4.9" fill="#203c7a" stroke="#fff" stroke-width="0.35"/>
<rect x="274.45" y="451.95" width="4.9" height="4.9" fill="#203c7a" stroke="#fff" stroke-width="0.35"/>
<rect x="267.55" y="462.30" width="4.9" height="4.9" fill="#203c7a" stroke="#fff" stroke-width="0.35"/>
<rect x="274.45" y="460.30" width="4.9" height="4.9" fill="#203c7a" stroke="#fff" stroke-width="0.35"/>
<circle cx="391.70" cy="441.90" r="2.55" fill="#ae0a2e" stroke="#fff" stroke-width="0.35"/>
<circle cx="398.70" cy="447.50" r="2.55" fill="#ae0a2e" stroke="#fff" stroke-width="0.35"/>
<circle cx="398.70" cy="456.70" r="2.55" fill="#ae0a2e" stroke="#fff" stroke-width="0.35"/>
<circle cx="391.70" cy="462.30" r="2.55" fill="#ae0a2e" stroke="#fff" stroke-width="0.35"/>
<rect x="412.95" y="464.85" width="4.9" height="4.9" fill="#203c7a" stroke="#fff" stroke-width="0.35"/>
<rect x="417.75" y="469.55" width="4.9" height="4.9" fill="#203c7a" stroke="#fff" stroke-width="0.35"/>
<rect x="422.75" y="465.35" width="4.9" height="4.9" fill="#203c7a" stroke="#fff" stroke-width="0.35"/>
<rect x="426.95" y="464.85" width="4.9" height="4.9" fill="#203c7a" stroke="#fff" stroke-width="0.35"/>
<circle cx="467.60" cy="404.50" r="2.55" fill="#ae0a2e" stroke="#fff" stroke-width="0.35"/>
<circle cx="463.70" cy="420.40" r="2.55" fill="#ae0a2e" stroke="#fff" stroke-width="0.35"/>
<circle cx="471.20" cy="423.20" r="2.55" fill="#ae0a2e" stroke="#fff" stroke-width="0.35"/>
<circle cx="467.60" cy="433.80" r="2.55" fill="#ae0a2e" stroke="#fff" stroke-width="0.35"/>
<rect x="486.35" y="455.55" width="4.9" height="4.9" fill="#203c7a" stroke="#fff" stroke-width="0.35"/>
<rect x="498.05" y="454.25" width="4.9" height="4.9" fill="#203c7a" stroke="#fff" stroke-width="0.35"/>
<rect x="492.45" y="459.85" width="4.9" height="4.9" fill="#203c7a" stroke="#fff" stroke-width="0.35"/>
<rect x="491.95" y="466.75" width="4.9" height="4.9" fill="#203c7a" stroke="#fff" stroke-width="0.35"/>
<line x1="56.35" y1="37.60" x2="56.35" y2="48.50" stroke="#b82a48" stroke-width="1.0"/>
<line x1="51.70" y1="37.60" x2="61.00" y2="37.60" stroke="#b82a48" stroke-width="1.0"/>
<line x1="51.70" y1="48.50" x2="61.00" y2="48.50" stroke="#b82a48" stroke-width="1.0"/>
<line x1="85.00" y1="69.20" x2="85.00" y2="78.50" stroke="#3a5390" stroke-width="1.0"/>
<line x1="80.25" y1="69.20" x2="89.75" y2="69.20" stroke="#3a5390" stroke-width="1.0"/>
<line x1="80.25" y1="78.50" x2="89.75" y2="78.50" stroke="#3a5390" stroke-width="1.0"/>
<line x1="168.85" y1="45.60" x2="168.85" y2="55.50" stroke="#b82a48" stroke-width="1.0"/>
<line x1="164.10" y1="45.60" x2="173.60" y2="45.60" stroke="#b82a48" stroke-width="1.0"/>
<line x1="164.10" y1="55.50" x2="173.60" y2="55.50" stroke="#b82a48" stroke-width="1.0"/>
<line x1="197.50" y1="60.60" x2="197.50" y2="68.50" stroke="#3a5390" stroke-width="1.0"/>
<line x1="193.00" y1="60.60" x2="202.00" y2="60.60" stroke="#3a5390" stroke-width="1.0"/>
<line x1="193.00" y1="68.50" x2="202.00" y2="68.50" stroke="#3a5390" stroke-width="1.0"/>
<line x1="393.85" y1="45.60" x2="393.85" y2="55.50" stroke="#b82a48" stroke-width="1.0"/>
<line x1="389.10" y1="45.60" x2="398.60" y2="45.60" stroke="#b82a48" stroke-width="1.0"/>
<line x1="389.10" y1="55.50" x2="398.60" y2="55.50" stroke="#b82a48" stroke-width="1.0"/>
<line x1="422.50" y1="60.60" x2="422.50" y2="68.50" stroke="#3a5390" stroke-width="1.0"/>
<line x1="418.00" y1="60.60" x2="427.00" y2="60.60" stroke="#3a5390" stroke-width="1.0"/>
<line x1="418.00" y1="68.50" x2="427.00" y2="68.50" stroke="#3a5390" stroke-width="1.0"/>
<line x1="281.50" y1="67.75" x2="281.50" y2="76.25" stroke="#b82a48" stroke-width="1.0"/>
<line x1="276.90" y1="67.75" x2="286.10" y2="67.75" stroke="#b82a48" stroke-width="1.0"/>
<line x1="276.90" y1="76.25" x2="286.10" y2="76.25" stroke="#b82a48" stroke-width="1.0"/>
<line x1="310.40" y1="73.10" x2="310.40" y2="78.50" stroke="#3a5390" stroke-width="1.0"/>
<line x1="306.15" y1="73.10" x2="314.65" y2="73.10" stroke="#3a5390" stroke-width="1.0"/>
<line x1="306.15" y1="78.50" x2="314.65" y2="78.50" stroke="#3a5390" stroke-width="1.0"/>
<line x1="50.00" y1="247.00" x2="63.80" y2="247.00" stroke="#151515" stroke-width="1.15"/>
<line x1="55.00" y1="246.00" x2="55.00" y2="248.00" stroke="#b82a48" stroke-width="1.0"/>
<line x1="50.50" y1="246.00" x2="59.50" y2="246.00" stroke="#b82a48" stroke-width="1.0"/>
<line x1="50.50" y1="248.00" x2="59.50" y2="248.00" stroke="#b82a48" stroke-width="1.0"/>
<line x1="75.00" y1="276.30" x2="88.80" y2="276.30" stroke="#151515" stroke-width="1.15"/>
<line x1="81.70" y1="273.10" x2="81.70" y2="279.30" stroke="#3a5390" stroke-width="1.0"/>
<line x1="77.20" y1="273.10" x2="86.20" y2="273.10" stroke="#3a5390" stroke-width="1.0"/>
<line x1="77.20" y1="279.30" x2="86.20" y2="279.30" stroke="#3a5390" stroke-width="1.0"/>
<line x1="126.25" y1="251.00" x2="126.25" y2="257.10" stroke="#b82a48" stroke-width="1.0"/>
<line x1="121.90" y1="251.00" x2="130.60" y2="251.00" stroke="#b82a48" stroke-width="1.0"/>
<line x1="121.90" y1="257.10" x2="130.60" y2="257.10" stroke="#b82a48" stroke-width="1.0"/>
<line x1="117.50" y1="254.10" x2="135.00" y2="254.10" stroke="#151515" stroke-width="1.15"/>
<line x1="144.40" y1="278.10" x2="161.90" y2="278.10" stroke="#151515" stroke-width="1.15"/>
<line x1="152.90" y1="275.00" x2="152.90" y2="281.00" stroke="#3a5390" stroke-width="1.0"/>
<line x1="148.55" y1="275.00" x2="157.25" y2="275.00" stroke="#3a5390" stroke-width="1.0"/>
<line x1="148.55" y1="281.00" x2="157.25" y2="281.00" stroke="#3a5390" stroke-width="1.0"/>
<line x1="274.25" y1="232.50" x2="274.25" y2="238.75" stroke="#b82a48" stroke-width="1.0"/>
<line x1="269.90" y1="232.50" x2="278.60" y2="232.50" stroke="#b82a48" stroke-width="1.0"/>
<line x1="269.90" y1="238.75" x2="278.60" y2="238.75" stroke="#b82a48" stroke-width="1.0"/>
<line x1="265.50" y1="235.75" x2="283.75" y2="235.75" stroke="#151515" stroke-width="1.15"/>
<line x1="301.25" y1="242.50" x2="301.25" y2="250.00" stroke="#3a5390" stroke-width="1.0"/>
<line x1="296.90" y1="242.50" x2="305.60" y2="242.50" stroke="#3a5390" stroke-width="1.0"/>
<line x1="296.90" y1="250.00" x2="305.60" y2="250.00" stroke="#3a5390" stroke-width="1.0"/>
<line x1="292.50" y1="246.25" x2="310.00" y2="246.25" stroke="#151515" stroke-width="1.15"/>
<line x1="345.60" y1="245.60" x2="345.60" y2="251.00" stroke="#b82a48" stroke-width="1.0"/>
<line x1="341.50" y1="245.60" x2="349.70" y2="245.60" stroke="#b82a48" stroke-width="1.0"/>
<line x1="341.50" y1="251.00" x2="349.70" y2="251.00" stroke="#b82a48" stroke-width="1.0"/>
<line x1="336.90" y1="248.10" x2="354.40" y2="248.10" stroke="#151515" stroke-width="1.15"/>
<line x1="367.50" y1="274.40" x2="377.50" y2="274.40" stroke="#151515" stroke-width="1.15"/>
<line x1="458.90" y1="253.50" x2="458.90" y2="257.00" stroke="#b82a48" stroke-width="1.0"/>
<line x1="454.90" y1="253.50" x2="462.90" y2="253.50" stroke="#b82a48" stroke-width="1.0"/>
<line x1="454.90" y1="257.00" x2="462.90" y2="257.00" stroke="#b82a48" stroke-width="1.0"/>
<line x1="489.60" y1="220.60" x2="489.60" y2="238.75" stroke="#3a5390" stroke-width="1.0"/>
<line x1="484.60" y1="220.60" x2="494.60" y2="220.60" stroke="#3a5390" stroke-width="1.0"/>
<line x1="484.60" y1="238.75" x2="494.60" y2="238.75" stroke="#3a5390" stroke-width="1.0"/>
<line x1="58.00" y1="445.75" x2="58.00" y2="452.60" stroke="#b82a48" stroke-width="1.0"/>
<line x1="53.30" y1="445.75" x2="62.70" y2="445.75" stroke="#b82a48" stroke-width="1.0"/>
<line x1="53.30" y1="452.60" x2="62.70" y2="452.60" stroke="#b82a48" stroke-width="1.0"/>
<line x1="89.40" y1="403.40" x2="89.40" y2="411.75" stroke="#3a5390" stroke-width="1.0"/>
<line x1="84.65" y1="403.40" x2="94.15" y2="403.40" stroke="#3a5390" stroke-width="1.0"/>
<line x1="84.65" y1="411.75" x2="94.15" y2="411.75" stroke="#3a5390" stroke-width="1.0"/>
<line x1="165.60" y1="453.75" x2="183.10" y2="453.75" stroke="#151515" stroke-width="1.15"/>
<line x1="192.50" y1="471.25" x2="210.00" y2="471.25" stroke="#151515" stroke-width="1.15"/>
<line x1="246.25" y1="416.25" x2="246.25" y2="424.40" stroke="#b82a48" stroke-width="1.0"/>
<line x1="241.95" y1="416.25" x2="250.55" y2="416.25" stroke="#b82a48" stroke-width="1.0"/>
<line x1="241.95" y1="424.40" x2="250.55" y2="424.40" stroke="#b82a48" stroke-width="1.0"/>
<line x1="237.10" y1="420.40" x2="255.40" y2="420.40" stroke="#151515" stroke-width="1.15"/>
<line x1="273.40" y1="454.75" x2="273.40" y2="461.50" stroke="#3a5390" stroke-width="1.0"/>
<line x1="269.40" y1="454.75" x2="277.40" y2="454.75" stroke="#3a5390" stroke-width="1.0"/>
<line x1="269.40" y1="461.50" x2="277.40" y2="461.50" stroke="#3a5390" stroke-width="1.0"/>
<line x1="264.40" y1="458.10" x2="282.50" y2="458.10" stroke="#151515" stroke-width="1.15"/>
<line x1="395.20" y1="447.75" x2="395.20" y2="456.70" stroke="#b82a48" stroke-width="1.0"/>
<line x1="390.90" y1="447.75" x2="399.50" y2="447.75" stroke="#b82a48" stroke-width="1.0"/>
<line x1="390.90" y1="456.70" x2="399.50" y2="456.70" stroke="#b82a48" stroke-width="1.0"/>
<line x1="386.20" y1="452.50" x2="404.30" y2="452.50" stroke="#151515" stroke-width="1.15"/>
<line x1="414.00" y1="468.70" x2="430.80" y2="468.70" stroke="#151515" stroke-width="1.15"/>
<line x1="467.60" y1="414.30" x2="467.60" y2="426.00" stroke="#b82a48" stroke-width="1.0"/>
<line x1="463.30" y1="414.30" x2="471.90" y2="414.30" stroke="#b82a48" stroke-width="1.0"/>
<line x1="463.30" y1="426.00" x2="471.90" y2="426.00" stroke="#b82a48" stroke-width="1.0"/>
<line x1="458.70" y1="420.40" x2="476.80" y2="420.40" stroke="#151515" stroke-width="1.15"/>
<line x1="486.00" y1="461.40" x2="503.80" y2="461.40" stroke="#151515" stroke-width="1.15"/>
<rect x="0" y="0" width="520" height="1" fill="#000"/><rect x="0" y="0" width="1" height="529" fill="#000"/><rect x="519" y="0" width="1" height="529" fill="#000"/><rect x="0" y="527.5" width="520" height="1.5" fill="#000"/>
</svg></body></html>
